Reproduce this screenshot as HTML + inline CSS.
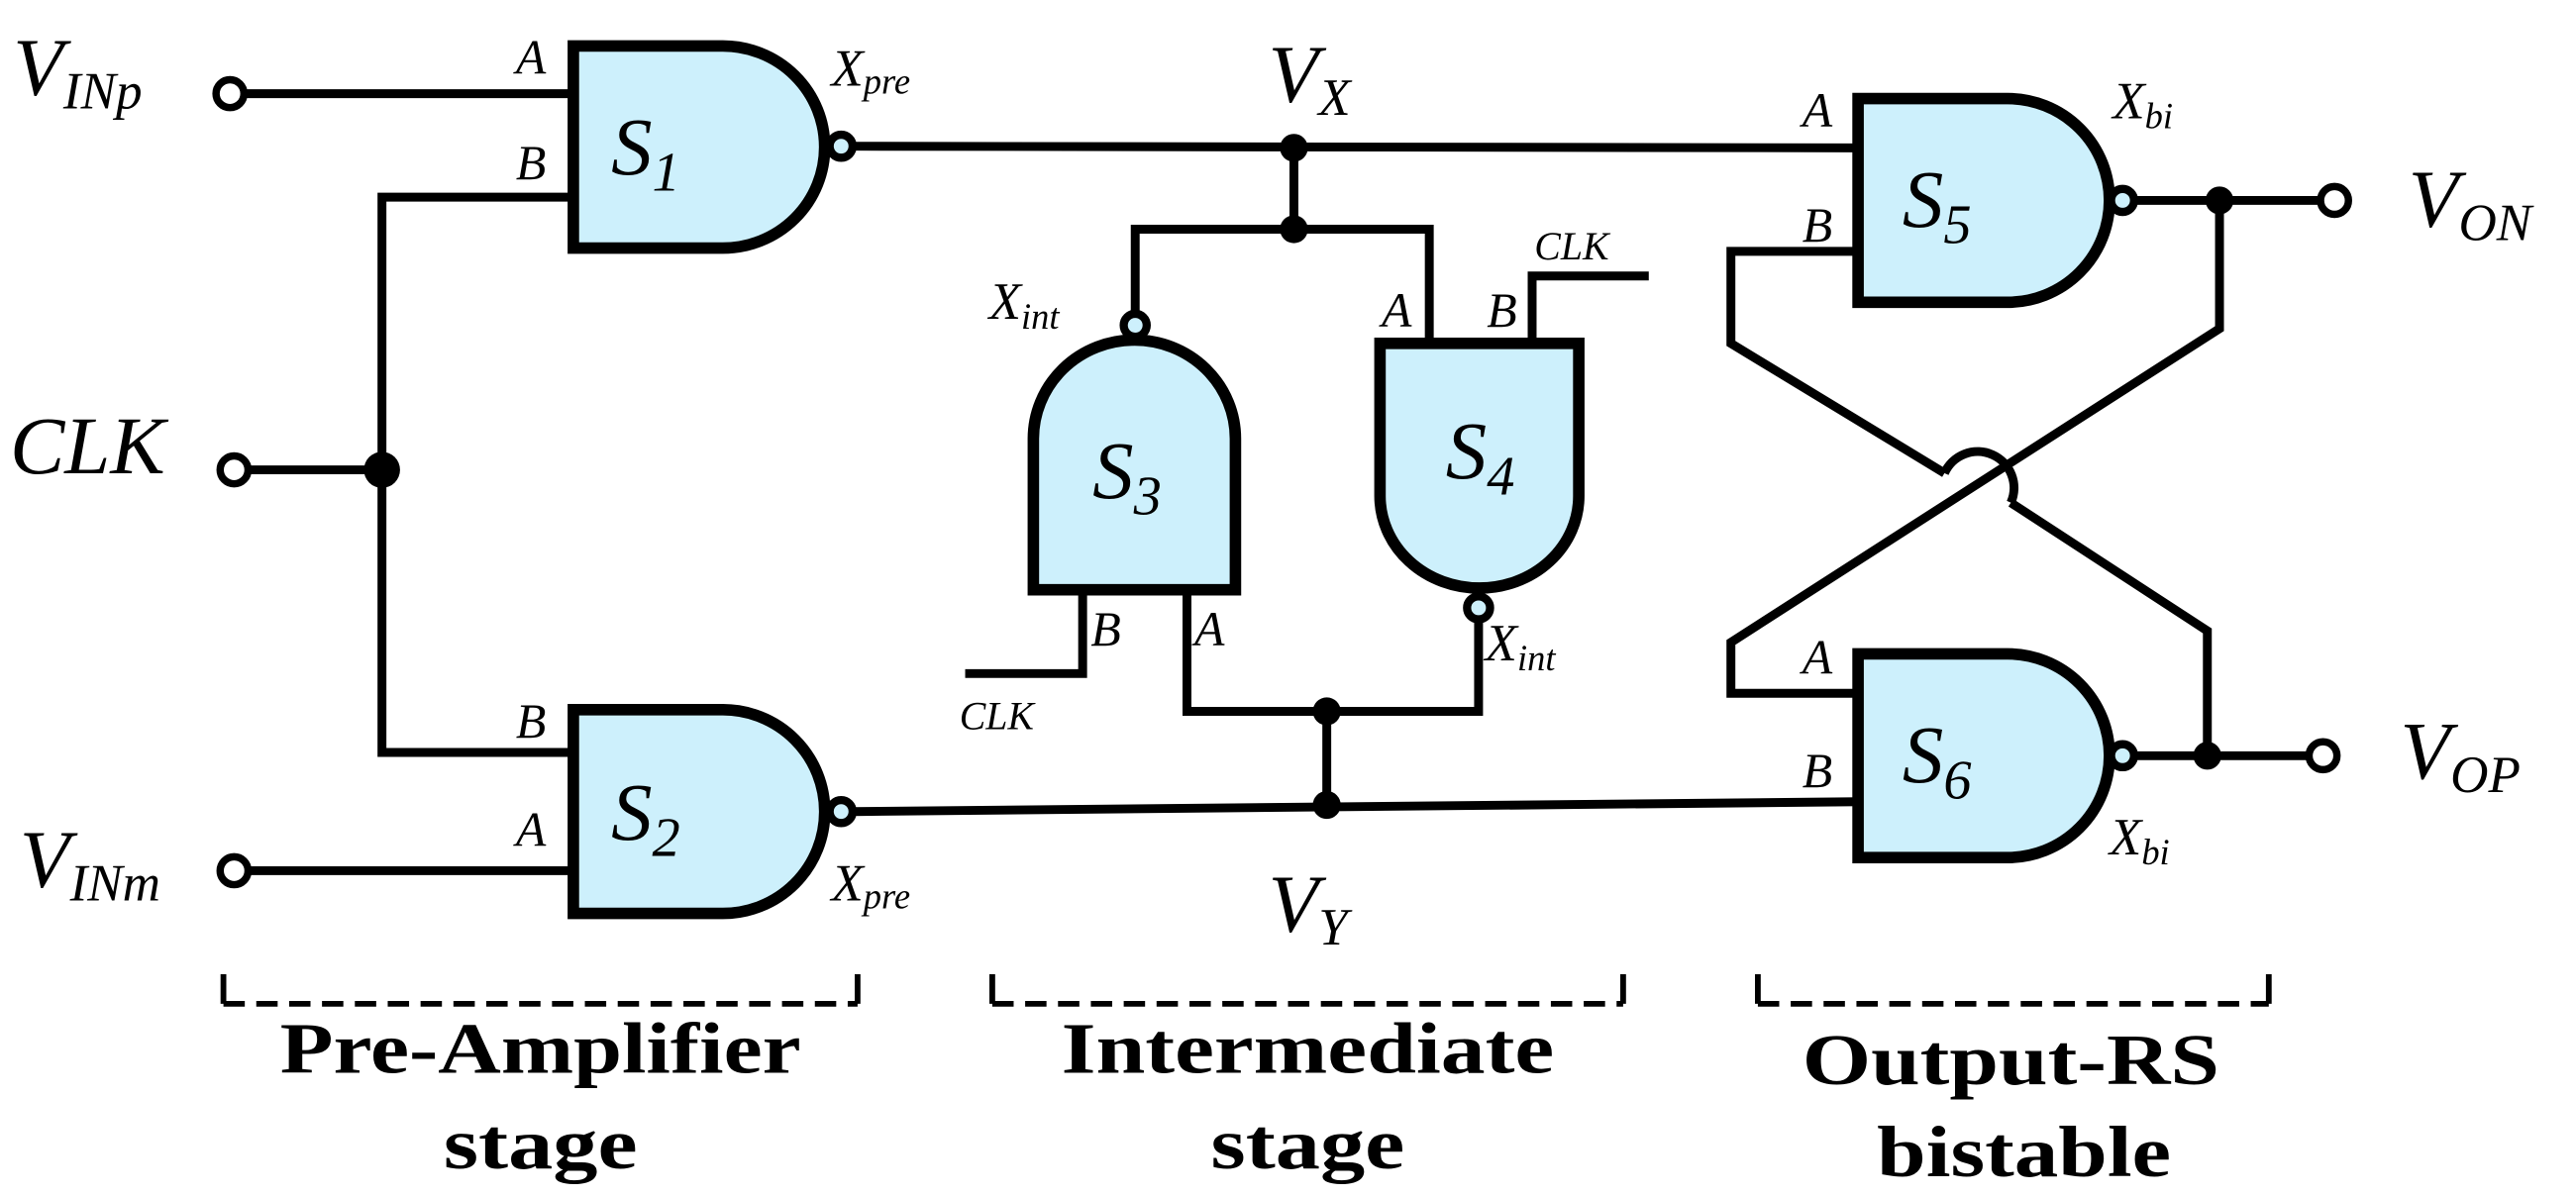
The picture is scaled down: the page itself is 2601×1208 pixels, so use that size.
<!DOCTYPE html>
<html><head><meta charset="utf-8"><style>
html,body{margin:0;padding:0;background:#fff;}
svg{display:block;}
text{font-family:"Liberation Serif",serif;font-style:italic;fill:#000;}
.b{font-style:normal;font-weight:bold;}
</style></head><body>
<svg width="2601" height="1208" viewBox="0 0 1568 728" preserveAspectRatio="none" xmlns="http://www.w3.org/2000/svg">
<g fill="none" stroke="#000" stroke-width="5.4" stroke-linejoin="miter">
<line x1="148" y1="57" x2="349" y2="57"/>
<polyline points="349,120 232.5,120 232.5,458 349,458"/>
<line x1="150" y1="286" x2="232.5" y2="286"/>
<line x1="150" y1="530" x2="349" y2="530"/>
<line x1="519" y1="89" x2="1131" y2="90"/>
<polyline points="787.6,90 787.6,139.5"/>
<polyline points="691,191 691,139.5 870,139.5 870,209"/>
<polyline points="932.6,209 932.6,168 1003.6,168"/>
<polyline points="659,359 659,410 587.5,410"/>
<polyline points="722.5,359 722.5,433 900,433 900,377"/>
<line x1="807.6" y1="433" x2="807.6" y2="490"/>
<line x1="519" y1="494" x2="1131" y2="488"/>
<polyline points="1131,153 1053.6,153 1053.6,209 1183.6,288"/>
<path d="M1183.6,288 A21,21 0 0 1 1224,306"/>
<polyline points="1224,306 1343.6,384 1343.6,460"/>
<polyline points="1351,122 1351,200 1053.6,391 1053.6,422 1131,422"/>
<line x1="1299" y1="122" x2="1413" y2="122"/>
<line x1="1299" y1="460" x2="1406" y2="460"/>
<g stroke-width="3.5">
<line x1="136" y1="593" x2="136" y2="611"/><line x1="522" y1="593" x2="522" y2="611"/>
<line x1="604" y1="593" x2="604" y2="611"/><line x1="988" y1="593" x2="988" y2="611"/>
<line x1="1070" y1="593" x2="1070" y2="611"/><line x1="1381" y1="593" x2="1381" y2="611"/>
<g stroke-dasharray="13,7">
<line x1="136" y1="611" x2="522" y2="611"/>
<line x1="604" y1="611" x2="988" y2="611"/>
<line x1="1070" y1="611" x2="1381" y2="611"/>
</g></g>
</g>
<g fill="#cdf0fc" stroke="#000" stroke-width="7">
<path d="M349,28 H440 A62,61.5 0 0 1 440,151 H349 Z"/>
<path d="M349,432 H440 A62,62 0 0 1 440,556 H349 Z"/>
<path d="M1131,60 H1222 A62,62 0 0 1 1222,184 H1131 Z"/>
<path d="M1131,398 H1222 A62,62 0 0 1 1222,522 H1131 Z"/>
<path d="M629,359 V267 A61.5,60 0 0 1 752,267 V359 Z"/>
<path d="M840,209 H961 V302 A60.5,56 0 0 1 840,302 Z"/>
</g>
<g fill="#cdf0fc" stroke="#000" stroke-width="5">
<circle cx="512" cy="89" r="7"/>
<circle cx="512" cy="494" r="7"/>
<circle cx="1292" cy="122" r="7"/>
<circle cx="1292" cy="460" r="7"/>
<circle cx="691" cy="198" r="7"/>
<circle cx="900" cy="370" r="7"/>
</g>
<g fill="#fff" stroke="#000" stroke-width="4.5">
<circle cx="140" cy="57" r="8.5"/>
<circle cx="142.5" cy="286" r="8.5"/>
<circle cx="142.5" cy="530" r="8.5"/>
<circle cx="1421" cy="122" r="8.5"/>
<circle cx="1414" cy="460" r="8.5"/>
</g>
<g fill="#000">
<circle cx="232.5" cy="286" r="11"/>
<circle cx="787.6" cy="90" r="8.5"/>
<circle cx="787.6" cy="139.5" r="8.5"/>
<circle cx="807.6" cy="433" r="8.5"/>
<circle cx="807.6" cy="490" r="8.5"/>
<circle cx="1351" cy="122" r="8.5"/>
<circle cx="1343.6" cy="460" r="8.5"/>
</g>
<g font-size="50">
<text x="8" y="58">V<tspan font-size="32" dy="8">INp</tspan></text>
<text x="12" y="540">V<tspan font-size="32" dy="8">INm</tspan></text>
<text x="6" y="288">CLK</text>
<text x="772" y="62">V<tspan font-size="32" dy="8">X</tspan></text>
<text x="772" y="567">V<tspan font-size="32" dy="8">Y</tspan></text>
<text x="1466" y="138">V<tspan font-size="32" dy="8">ON</tspan></text>
<text x="1461" y="474">V<tspan font-size="32" dy="8">OP</tspan></text>
<text x="372" y="106">S<tspan font-size="34" dy="10">1</tspan></text>
<text x="372" y="511">S<tspan font-size="34" dy="10">2</tspan></text>
<text x="665" y="303">S<tspan font-size="34" dy="10">3</tspan></text>
<text x="880" y="291">S<tspan font-size="34" dy="10">4</tspan></text>
<text x="1158" y="138">S<tspan font-size="34" dy="10">5</tspan></text>
<text x="1158" y="476">S<tspan font-size="34" dy="10">6</tspan></text>
</g>
<g font-size="30">
<text x="314" y="45">A</text><text x="314" y="109">B</text>
<text x="314" y="449">B</text><text x="314" y="515">A</text>
<text x="664" y="393">B</text><text x="727" y="393">A</text>
<text x="841" y="199">A</text><text x="905" y="199">B</text>
<text x="1097" y="77">A</text><text x="1097" y="147">B</text>
<text x="1097" y="410">A</text><text x="1097" y="479">B</text>
</g>
<g font-size="32">
<text x="506" y="52">X<tspan font-size="22" dy="5">pre</tspan></text>
<text x="506" y="548">X<tspan font-size="22" dy="5">pre</tspan></text>
<text x="602" y="194">X<tspan font-size="22" dy="6">int</tspan></text>
<text x="904" y="402">X<tspan font-size="22" dy="6">int</tspan></text>
<text x="1286" y="72">X<tspan font-size="22" dy="6">bi</tspan></text>
<text x="1284" y="520">X<tspan font-size="22" dy="6">bi</tspan></text>
</g>
<g font-size="24">
<text x="584" y="444">CLK</text>
<text x="934" y="158">CLK</text>
</g>
<g font-size="44" text-anchor="middle">
<text class="b" x="329" y="653" textLength="317" lengthAdjust="spacingAndGlyphs">Pre-Amplifier</text>
<text class="b" x="329" y="711" textLength="118" lengthAdjust="spacingAndGlyphs">stage</text>
<text class="b" x="796" y="653" textLength="300" lengthAdjust="spacingAndGlyphs">Intermediate</text>
<text class="b" x="796" y="711" textLength="118" lengthAdjust="spacingAndGlyphs">stage</text>
<text class="b" x="1224" y="660" textLength="254" lengthAdjust="spacingAndGlyphs">Output-RS</text>
<text class="b" x="1232" y="716" textLength="179" lengthAdjust="spacingAndGlyphs">bistable</text>
</g>
</svg>
</body></html>
